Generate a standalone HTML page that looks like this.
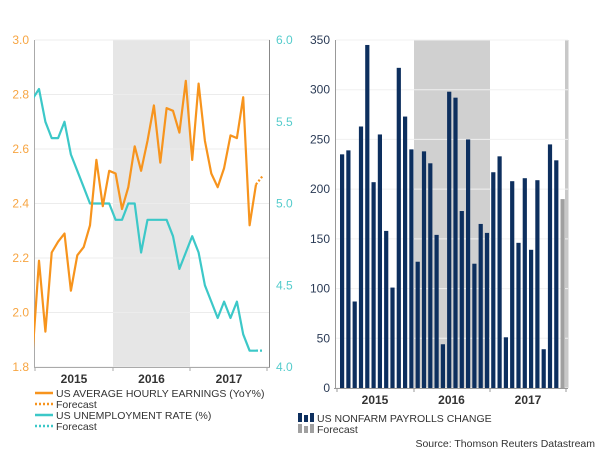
<!DOCTYPE html>
<html><head><meta charset="utf-8"><style>
body{margin:0;background:#fff;}
svg{display:block;font-family:"Liberation Sans",sans-serif;}
</style></head><body>
<svg id="c" width="600" height="450" viewBox="0 0 600 450">
<defs>
<clipPath id="lc"><rect x="34" y="30" width="236" height="345"/></clipPath>
</defs>
<g id="left"></g>
<g id="right"></g>
<g font-size="10.5" fill="#333">
<line x1="35" y1="393" x2="53" y2="393" stroke="#f7941d" stroke-width="2.5"/>
<text x="56" y="397">US AVERAGE HOURLY EARNINGS (YoY%)</text>
<line x1="35" y1="404" x2="53" y2="404" stroke="#f7941d" stroke-width="2.5" stroke-dasharray="2,2"/>
<text x="56" y="408">Forecast</text>
<line x1="35" y1="415" x2="53" y2="415" stroke="#3cc8c8" stroke-width="2.5"/>
<text x="56" y="419">US UNEMPLOYMENT RATE (%)</text>
<line x1="35" y1="426" x2="53" y2="426" stroke="#3cc8c8" stroke-width="2.5" stroke-dasharray="2,2"/>
<text x="56" y="430">Forecast</text>
</g>
<g font-size="10.5" fill="#333">
<g fill="#0d2f5e"><rect x="298" y="413" width="4" height="9"/><rect x="304" y="415" width="4" height="7"/><rect x="310" y="413" width="4" height="9"/></g>
<text x="317" y="422">US NONFARM PAYROLLS CHANGE</text>
<g fill="#a0a0a0"><rect x="298" y="424" width="4" height="9"/><rect x="304" y="426" width="4" height="7"/><rect x="310" y="424" width="4" height="9"/></g>
<text x="317" y="433">Forecast</text>
<text x="595" y="447" text-anchor="end">Source: Thomson Reuters Datastream</text>
</g>
</svg>
<script>
// Left chart data (index 0 is partially clipped at chart start; last index is forecast)
const earnings = [1.85,2.19,1.93,2.22,2.26,2.29,2.08,2.21,2.24,2.32,2.56,2.39,2.52,2.51,2.38,2.46,2.61,2.52,2.63,2.76,2.55,2.75,2.74,2.66,2.85,2.56,2.84,2.63,2.51,2.46,2.53,2.65,2.64,2.79,2.32,2.47];
const earningsForecast = 2.50;
const unemployment = [5.64,5.7,5.5,5.4,5.4,5.5,5.3,5.2,5.1,5.0,5.0,5.0,5.0,4.9,4.9,5.0,5.0,4.7,4.9,4.9,4.9,4.9,4.8,4.6,4.7,4.8,4.7,4.5,4.4,4.3,4.4,4.3,4.4,4.2,4.1,4.1];
const unemploymentForecast = 4.1;
const leftTicks = [1.8,2.0,2.2,2.4,2.6,2.8,3.0];
const rightTicks = [4.0,4.5,5.0,5.5,6.0];
const years = ["2015","2016","2017"];
// Right chart data
const payrolls = [235,239,87,263,345,207,255,158,101,322,273,240,127,238,226,154,44,298,292,178,250,125,165,156,217,233,51,208,146,211,139,209,39,245,229];
const payrollsForecast = 190;
const payrollTicks = [0,50,100,150,200,250,300,350];

const NS="http://www.w3.org/2000/svg";
function mk(parent,tag,attrs){const e=document.createElementNS(NS,tag);for(const k in attrs)e.setAttribute(k,attrs[k]);parent.appendChild(e);return e;}

// ---------- Left chart ----------
const L=document.getElementById('left');
const lx=i=>32.6+i*6.383;
const ly=v=>40+(3.0-v)/1.2*327;
const ry=v=>40+(6.0-v)/2.0*327;
let e=mk(L,'rect',{x:113,y:40,width:77,height:327,fill:'#e6e6e6'});


leftTicks.forEach(t=>{
  const y=ly(t);
  let g=mk(L,'line',{x1:35,x2:270,y1:y,y2:y,stroke:'#ececec','stroke-width':1});
  
  
  let tx=mk(L,'text',{x:29,y:y+4,'text-anchor':'end','font-size':12,fill:'#f7a542'});
  tx.textContent=t.toFixed(1);
  
  
});
rightTicks.forEach(t=>{
  let tx=mk(L,'text',{x:276,y:ry(t)+4,'font-size':12,fill:'#55cccc'});
  tx.textContent=t.toFixed(1);
  
  
});
e=mk(L,'line',{x1:34.5,x2:34.5,y1:40,y2:368,stroke:'#aaa'});

e=mk(L,'line',{x1:269.5,x2:269.5,y1:40,y2:368,stroke:'#888'});

e=mk(L,'line',{x1:34,x2:270,y1:367.5,y2:367.5,stroke:'#aaa'});

[35,113,190,267].forEach(x=>{const t=mk(L,'line',{x1:x,x2:x,y1:367,y2:371,stroke:'#aaa'});});
years.forEach((y,i)=>{const t=mk(L,'text',{x:74+i*77.5,y:383,'text-anchor':'middle','font-size':12,'font-weight':'bold',fill:'#333'});t.textContent=y;});
function path(vals,fx,fy){return vals.map((v,i)=>(i?'L':'M')+fx(i).toFixed(1)+','+fy(v).toFixed(1)).join('');}
const cg=mk(L,'g',{'clip-path':'url(#lc)'});
e=mk(cg,'path',{d:path(unemployment,lx,ry),fill:'none',stroke:'#3cc8c8','stroke-width':2.2,'stroke-linejoin':'round'});

const nu=unemployment.length;
e=mk(cg,'line',{x1:lx(nu-1),y1:ry(unemployment[nu-1]),x2:lx(nu),y2:ry(unemploymentForecast),stroke:'#3cc8c8','stroke-width':2.2,'stroke-dasharray':'2,2'});

e=mk(cg,'path',{d:path(earnings,lx,ly),fill:'none',stroke:'#f7941d','stroke-width':2.2,'stroke-linejoin':'round'});

const ne=earnings.length;
e=mk(cg,'line',{x1:lx(ne-1),y1:ly(earnings[ne-1]),x2:lx(ne),y2:ly(earningsForecast),stroke:'#f7941d','stroke-width':2.2,'stroke-dasharray':'2,2'});


// ---------- Right chart ----------
const R=document.getElementById('right');
const bx=i=>340+i*6.3;
const by=v=>388-v/350*348;
e=mk(R,'rect',{x:414,y:40,width:76,height:348,fill:'#d0d0d0'});

e=mk(R,'rect',{x:565,y:40,width:3.5,height:348,fill:'#c8c8c8'});

payrollTicks.forEach(t=>{
  const y=by(t);
  let g=mk(R,'line',{x1:336,x2:568,y1:y,y2:y,stroke:'#f0f0f0'});
  
  let tx=mk(R,'text',{x:330,y:y+4,'text-anchor':'end','font-size':12,fill:'#2a3a55'});
  tx.textContent=t;
  
});
payrolls.forEach((v,i)=>{
  const b=mk(R,'rect',{x:bx(i),y:by(v),width:4.2,height:388-by(v),fill:'#0d2f5e'});
  
  
});
e=mk(R,'rect',{x:bx(payrolls.length),y:by(payrollsForecast),width:4.2,height:388-by(payrollsForecast),fill:'#a0a0a0'});

e=mk(R,'line',{x1:335.5,x2:335.5,y1:40,y2:389,stroke:'#999'});

e=mk(R,'line',{x1:334,x2:568,y1:388.5,y2:388.5,stroke:'#999'});

[337,414,490,566].forEach(x=>{const t=mk(R,'line',{x1:x,x2:x,y1:388,y2:392,stroke:'#999'});});
years.forEach((y,i)=>{const t=mk(R,'text',{x:375+i*76.5,y:404,'text-anchor':'middle','font-size':12,'font-weight':'bold',fill:'#333'});t.textContent=y;});
</script>
</body></html>
